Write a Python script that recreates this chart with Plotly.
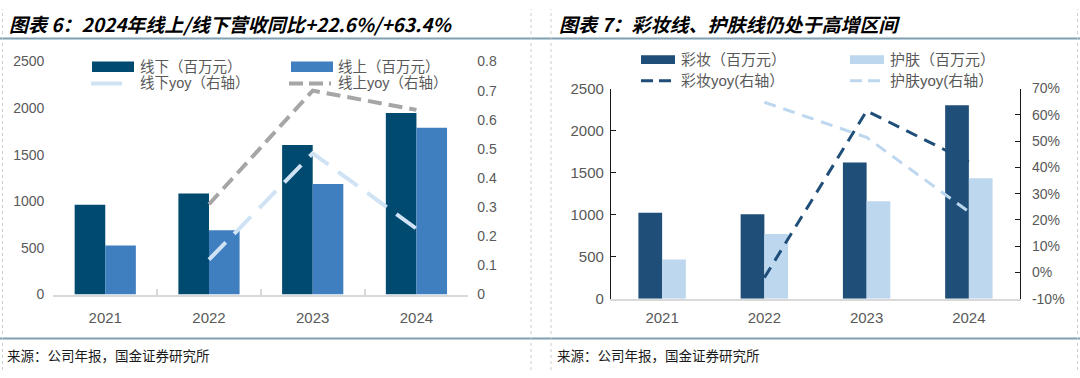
import plotly.graph_objects as go

# ---------------- data ----------------
years = ["2021", "2022", "2023", "2024"]
yoy_years = ["2022", "2023", "2024"]

offline = [963, 1083, 1605, 1947]          # 线下（百万元）
online = [526, 690, 1185, 1790]            # 线上（百万元）
offline_yoy = [0.12, 0.485, 0.226]         # 线下yoy（右轴）
online_yoy = [0.31, 0.70, 0.634]           # 线上yoy（右轴）

makeup = [1023, 1003, 1620, 2302]          # 彩妆（百万元）
skincare = [466, 768, 1160, 1432]          # 护肤（百万元）
makeup_yoy = [-0.02, 0.615, 0.421]         # 彩妆yoy(右轴）
skincare_yoy = [0.648, 0.514, 0.231]       # 护肤yoy(右轴）

left_names = ["线下（百万元）", "线上（百万元）", "线下yoy（右轴）", "线上yoy（右轴）"]
right_names = ["彩妆（百万元）", "护肤（百万元）", "彩妆yoy(右轴）", "护肤yoy(右轴）"]

left_y_ticks = [0, 500, 1000, 1500, 2000, 2500]
left_y2_ticks = [0, 0.1, 0.2, 0.3, 0.4, 0.5, 0.6, 0.7, 0.8]
right_y_ticks = [0, 500, 1000, 1500, 2000, 2500]
right_y2_ticks = [-0.1, 0, 0.1, 0.2, 0.3, 0.4, 0.5, 0.6, 0.7]
right_y2_labels = ["-10%", "0%", "10%", "20%", "30%", "40%", "50%", "60%", "70%"]

title_left = "图表 6：2024年线上/线下营收同比+22.6%/+63.4%"
title_right = "图表 7：彩妆线、护肤线仍处于高增区间"
source_text = "来源：公司年报，国金证券研究所"

# ---------------- style ----------------
W, H = 1080, 378
C_DARK_L = "#004a70"
C_LIGHT_L = "#3f7fbf"
C_LBLUE_LINE = "#cfe3f4"
C_GREY_LINE = "#a6a6a6"
C_DARK_R = "#1f4e79"
C_LIGHT_R = "#bdd7ee"
TICK_C = "#595959"
NUM_FONT = "Liberation Sans, Arial, sans-serif"
CJK_FONT = "Liberation Sans, Noto Sans CJK SC, sans-serif"


def px(x):
    return x / W


def py(y):
    return 1 - y / H


fig = go.Figure()

# left panel bars
bw_l = 0.295
fig.add_trace(go.Bar(x=years, y=offline, name=left_names[0], marker=dict(color=C_DARK_L, line=dict(width=0)),
                     width=bw_l, offset=-bw_l, xaxis="x", yaxis="y", showlegend=False))
fig.add_trace(go.Bar(x=years, y=online, name=left_names[1], marker=dict(color=C_LIGHT_L, line=dict(width=0)),
                     width=bw_l, offset=0, xaxis="x", yaxis="y", showlegend=False))
fig.add_trace(go.Scatter(x=yoy_years, y=offline_yoy, name=left_names[2], mode="lines",
                         line=dict(color=C_LBLUE_LINE, width=4, dash="24px,12px"),
                         xaxis="x", yaxis="y2", showlegend=False))
fig.add_trace(go.Scatter(x=yoy_years, y=online_yoy, name=left_names[3], mode="lines",
                         line=dict(color=C_GREY_LINE, width=4, dash="14px,7px"),
                         xaxis="x", yaxis="y2", showlegend=False))

# right panel bars
bw_r = 0.232
fig.add_trace(go.Bar(x=years, y=makeup, name=right_names[0], marker=dict(color=C_DARK_R, line=dict(width=0)),
                     width=bw_r, offset=-bw_r, xaxis="x2", yaxis="y3", showlegend=False))
fig.add_trace(go.Bar(x=years, y=skincare, name=right_names[1], marker=dict(color=C_LIGHT_R, line=dict(width=0)),
                     width=bw_r, offset=0, xaxis="x2", yaxis="y3", showlegend=False))
fig.add_trace(go.Scatter(x=yoy_years, y=makeup_yoy, name=right_names[2], mode="lines",
                         line=dict(color=C_DARK_R, width=3, dash="12px,8px"),
                         xaxis="x2", yaxis="y4", showlegend=False))
fig.add_trace(go.Scatter(x=yoy_years, y=skincare_yoy, name=right_names[3], mode="lines",
                         line=dict(color=C_LIGHT_R, width=3, dash="12px,8px"),
                         xaxis="x2", yaxis="y4", showlegend=False))

LD = [px(53.4), px(468.3)]
LY = [py(299), py(55)]
RD = [px(611), px(1020)]
RY = [py(303.3), py(83.3)]

tickfont_l = dict(family=NUM_FONT, size=14, color=TICK_C)
tickfont_r = dict(family=NUM_FONT, size=15, color=TICK_C)

fig.update_layout(
    width=W, height=H,
    margin=dict(l=0, r=0, t=0, b=0),
    paper_bgcolor="white", plot_bgcolor="rgba(0,0,0,0)",
    barmode="overlay",
    showlegend=False,
    xaxis=dict(domain=LD, anchor="y", type="category", categoryorder="array", categoryarray=years,
               range=[-0.5, 3.5], showline=True, linecolor="#d9d9d9", linewidth=1.5,
               ticks="inside", tickson="boundaries", ticklen=6, tickcolor="#d9d9d9", tickwidth=1.5,
               showgrid=False, zeroline=False, tickfont=dict(family=NUM_FONT, size=15, color=TICK_C),
               ticklabelstandoff=9),
    yaxis=dict(domain=LY, anchor="x", range=[0, 2500], tickvals=left_y_ticks, showgrid=False,
               zeroline=False, showline=False, ticks="", tickfont=tickfont_l, ticklabelstandoff=8),
    yaxis2=dict(overlaying="y", side="right", anchor="x", range=[0, 0.8], tickvals=left_y2_ticks,
                showgrid=False, zeroline=False, showline=False, ticks="", tickfont=tickfont_l,
                ticklabelstandoff=8),
    xaxis2=dict(domain=RD, anchor="y3", type="category", categoryorder="array", categoryarray=years,
                range=[-0.5, 3.5], showline=True, linecolor="#d9d9d9", linewidth=2,
                ticks="", showgrid=False, zeroline=False,
                tickfont=dict(family=NUM_FONT, size=15, color=TICK_C), ticklabelstandoff=4),
    yaxis3=dict(domain=RY, anchor="x2", range=[0, 2500], tickvals=right_y_ticks, showgrid=False,
                zeroline=False, showline=True, linecolor="#1a1a1a", linewidth=1.2,
                ticks="inside", ticklen=5, tickcolor="#1a1a1a", tickfont=tickfont_r, ticklabelstandoff=3),
    yaxis4=dict(overlaying="y3", side="right", anchor="x2", range=[-0.1, 0.7], tickvals=right_y2_ticks,
                ticktext=right_y2_labels, showgrid=False, zeroline=False, showline=True,
                linecolor="#1a1a1a", linewidth=1.2, ticks="inside", ticklen=5, tickcolor="#1a1a1a",
                tickfont=dict(family=NUM_FONT, size=14, color=TICK_C), ticklabelstandoff=8),
)

shapes = []
annotations = []

# frame: separator lines
SEP_C = "#7f9fb3"
shapes.append(dict(type="line", xref="paper", yref="paper", x0=0, x1=1, y0=py(31), y1=py(31),
                   line=dict(color=SEP_C, width=2)))
shapes.append(dict(type="line", xref="paper", yref="paper", x0=0, x1=1, y0=py(345), y1=py(345),
                   line=dict(color=SEP_C, width=2)))
for xv in [2.5, 531, 551, 1077.5]:
    shapes.append(dict(type="line", xref="paper", yref="paper", x0=px(xv), x1=px(xv), y0=0, y1=1,
                       line=dict(color="#cccccc", width=1, dash="3px,3px")))

# titles
for txt, x0 in [(title_left, 7), (title_right, 557)]:
    annotations.append(dict(text="<b><i>" + txt + "</i></b>", xref="paper", yref="paper",
                            x=px(x0), y=py(15), xanchor="left", yanchor="middle", showarrow=False,
                            font=dict(family="Noto Sans CJK SC, sans-serif", size=19, color="#000000")))
# sources
for x0 in [5, 555]:
    annotations.append(dict(text=source_text, xref="paper", yref="paper",
                            x=px(x0), y=py(362), xanchor="left", yanchor="middle", showarrow=False,
                            font=dict(family="Noto Sans CJK SC, sans-serif", size=13.5, color="#1a1a1a")))


def legend_text(t, x, y, size):
    annotations.append(dict(text=t, xref="paper", yref="paper", x=px(x), y=py(y), xanchor="left",
                            yanchor="middle", showarrow=False,
                            font=dict(family=CJK_FONT, size=size, color=TICK_C)))


def legend_rect(x0, x1, y0, y1, color):
    shapes.append(dict(type="rect", xref="paper", yref="paper", x0=px(x0), x1=px(x1), y0=py(y1), y1=py(y0),
                       fillcolor=color, line=dict(width=0)))


def legend_line(x0, x1, y, color, width, dash):
    shapes.append(dict(type="line", xref="paper", yref="paper", x0=px(x0), x1=px(x1), y0=py(y), y1=py(y),
                       line=dict(color=color, width=width, dash=dash)))


# left legend
legend_rect(92, 134, 55, 66, C_DARK_L)
legend_text(left_names[0], 138, 60.5, 14.5)
legend_rect(291, 333, 55, 66, C_LIGHT_L)
legend_text(left_names[1], 336, 60.5, 14.5)
legend_line(91, 122, 78, C_LBLUE_LINE, 4, "solid")
legend_text(left_names[2], 138, 78, 14.5)
legend_line(289, 331, 78, C_GREY_LINE, 4, "14px,6px")
legend_text(left_names[3], 336, 78, 14.5)

# right legend
legend_rect(641, 675, 48.5, 57.5, C_DARK_R)
legend_text(right_names[0], 679, 53, 15)
legend_rect(850, 884, 48.5, 57.5, C_LIGHT_R)
legend_text(right_names[1], 888, 53, 15)
legend_line(641, 675, 75, C_DARK_R, 3, "12px,6px")
legend_text(right_names[2], 679, 75, 15)
legend_line(850, 884, 75, C_LIGHT_R, 3, "12px,6px")
legend_text(right_names[3], 888, 75, 15)

fig.update_layout(shapes=shapes, annotations=annotations)

fig.write_html("out.html", config={"displayModeBar": False},
               post_script="document.body.style.margin='0';document.body.style.overflow='hidden';")
